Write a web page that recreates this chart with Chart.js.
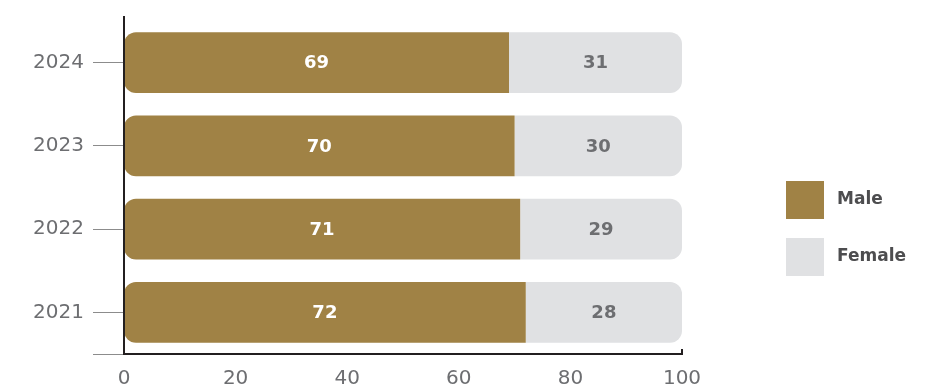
<!DOCTYPE html>
<html>
<head>
<meta charset="utf-8">
<script src="https://cdn.jsdelivr.net/npm/chart.js@4"></script>
<style>
  html, body { margin: 0; padding: 0; background: #fff; }
  #wrap { width: 928px; height: 385px; position: relative; }
</style>
</head>
<body>
<div id="wrap"><canvas id="genderChart"></canvas></div>
<script>
const years = ['2024', '2023', '2022', '2021'];
const maleShare = [69, 70, 71, 72];
const femaleShare = [31, 30, 29, 28];
const xTicks = [0, 20, 40, 60, 80, 100];

const GOLD = '#a08245';
const GREY = '#e0e1e3';

// axis lines, extra bottom tick, value labels and legend
const decor = {
    id: 'decor',
    afterDatasetsDraw: (chart) => {
        const ctx = chart.ctx;
        const area = chart.chartArea;

        ctx.save();
        // grey tick at the bottom of the y axis
        ctx.strokeStyle = '#8c8c8c';
        ctx.lineWidth = 1;
        ctx.beginPath();
        ctx.moveTo(area.left - 31, area.bottom + 0.5);
        ctx.lineTo(area.left, area.bottom + 0.5);
        ctx.stroke();

        // dark axis lines
        ctx.strokeStyle = '#231f20';
        ctx.lineWidth = 2;
        ctx.beginPath();
        ctx.moveTo(area.left, area.top - 5);
        ctx.lineTo(area.left, area.bottom);
        ctx.lineTo(area.right, area.bottom);
        ctx.lineTo(area.right, area.bottom - 5);
        ctx.stroke();

        // value labels
        ctx.font = 'bold 18px "DejaVu Sans"';
        ctx.textAlign = 'center';
        ctx.textBaseline = 'middle';
        chart.data.datasets.forEach((ds, i) => {
            const meta = chart.getDatasetMeta(i);
            meta.data.forEach((bar, j) => {
                const cx = (bar.x + bar.base) / 2;
                ctx.fillStyle = i === 0 ? '#ffffff' : '#6d6e71';
                ctx.fillText(String(ds.data[j]), cx, bar.y + 1);
            });
        });

        // legend
        chart.data.datasets.forEach((ds, i) => {
            const top = 181 + i * 57;
            ctx.fillStyle = ds.backgroundColor;
            ctx.fillRect(786, top, 38, 38);
            ctx.fillStyle = '#4d4d4f';
            ctx.textAlign = 'left';
            ctx.font = 'bold 17px "DejaVu Sans"';
            ctx.fillText(ds.label, 837, top + 19);
        });
        ctx.restore();
    }
};

new Chart(document.getElementById('genderChart'), {
    type: 'bar',
    data: {
        labels: years,
        datasets: [{
            label: 'Male',
            data: maleShare,
            backgroundColor: GOLD,
            borderSkipped: false,
            borderRadius: { topLeft: 12, bottomLeft: 12, topRight: 0, bottomRight: 0 },
            barPercentage: 0.73,
            categoryPercentage: 1
        }, {
            label: 'Female',
            data: femaleShare,
            backgroundColor: GREY,
            borderSkipped: false,
            borderRadius: { topLeft: 0, bottomLeft: 0, topRight: 12, bottomRight: 12 },
            barPercentage: 0.73,
            categoryPercentage: 1
        }]
    },
    options: {
        indexAxis: 'y',
        responsive: true,
        maintainAspectRatio: false,
        animation: false,
        layout: { padding: { top: 19, right: 246, bottom: 0, left: 0 } },
        scales: {
            x: {
                stacked: true,
                min: 0,
                max: 100,
                afterFit: (s) => { s.height = 31; },
                afterBuildTicks: (s) => { s.ticks = xTicks.map(v => ({ value: v })); },
                grid: { display: false, drawTicks: false },
                border: { display: false },
                ticks: {
                    padding: 13,
                    color: '#6d6e71',
                    font: { family: 'DejaVu Sans', size: 20 }
                }
            },
            y: {
                stacked: true,
                afterFit: (s) => { s.width = 124; },
                grid: {
                    offset: false,
                    drawOnChartArea: false,
                    tickLength: 31,
                    color: '#8c8c8c'
                },
                border: { display: false },
                ticks: {
                    padding: 9,
                    color: '#6d6e71',
                    font: { family: 'DejaVu Sans', size: 20 }
                }
            }
        },
        plugins: {
            legend: { display: false },
            tooltip: { enabled: false }
        }
    },
    plugins: [decor]
});
</script>
</body>
</html>
